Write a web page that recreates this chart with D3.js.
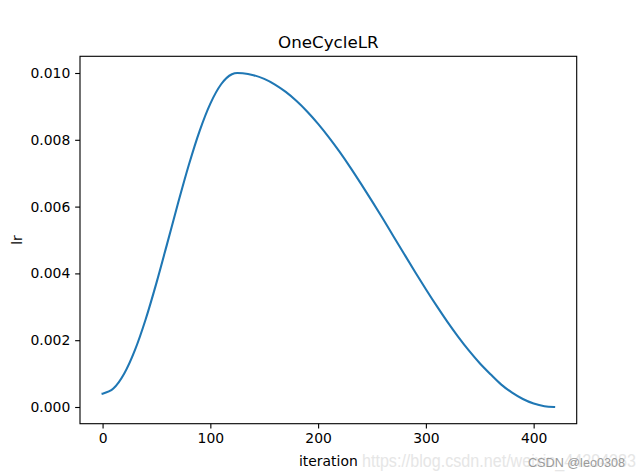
<!DOCTYPE html>
<html><head><meta charset="utf-8">
<script src="https://cdn.jsdelivr.net/npm/d3@7"></script>
<style>body{margin:0;background:#fff}svg{display:block}text{font-family:"DejaVu Sans",sans-serif}</style>
</head><body>
<svg id="c" width="640" height="476"></svg>
<script>
const iterations = [0,10,20,30,40,50,60,70,80,90,100,110,120,125,130,140,150,160,170,180,190,200,210,220,230,240,250,260,270,280,290,300,310,320,330,340,350,360,370,380,390,400,410,419];
const lrValues = [0.000400,0.000551,0.000994,0.001701,0.002628,0.003717,0.004899,0.006099,0.007244,0.008260,0.009083,0.009663,0.009962,0.010000,0.009993,0.009936,0.009823,0.009654,0.009433,0.009161,0.008842,0.008479,0.008076,0.007639,0.007169,0.006674,0.006165,0.005642,0.005107,0.004573,0.004044,0.003526,0.003026,0.002548,0.002100,0.001686,0.001311,0.000980,0.000670,0.000429,0.000239,0.000103,0.000023,0.000000];
const xTicks = [0,100,200,300,400];
const yTicks = [0.000,0.002,0.004,0.006,0.008,0.010];
const title = "OneCycleLR", xLabel = "iteration", yLabel = "lr";

const svg = d3.select("#c");
const L=80, R=576.7, T=56.3, B=423.7;
const x = d3.scaleLinear().domain([-20.95, 439.95]).range([L, R]);
const y = d3.scaleLinear().domain([-0.0005, 0.0105]).range([B, T]);

const line = d3.line().x((d,i)=>x(iterations[i])).y(d=>y(d)).curve(d3.curveMonotoneX);
svg.append("path").datum(lrValues).attr("d", line).attr("fill","none")
  .attr("stroke","#1f77b4").attr("stroke-width",2.08).attr("stroke-linecap","square");

const xa = svg.append("g").attr("transform",`translate(0,${B})`)
  .call(d3.axisBottom(x).tickValues(xTicks).tickFormat(d3.format("d")).tickSizeOuter(0).tickSizeInner(4.86).tickPadding(4.86));
const ya = svg.append("g").attr("transform",`translate(${L},0)`)
  .call(d3.axisLeft(y).tickValues(yTicks).tickFormat(d3.format(".3f")).tickSizeOuter(0).tickSizeInner(4.86).tickPadding(4.86));
[xa,ya].forEach(g=>{
  g.select(".domain").remove();
  g.selectAll(".tick line").attr("stroke","#000").attr("stroke-width",1.11);
  g.selectAll(".tick text").attr("fill","#000").style("font-size","13.9px").style("font-family","DejaVu Sans");
});
svg.append("rect").attr("x",L).attr("y",T).attr("width",R-L).attr("height",B-T)
  .attr("fill","none").attr("stroke","#000").attr("stroke-width",1.11);

svg.append("text").attr("x",(L+R)/2).attr("y",T-8.3).attr("text-anchor","middle")
  .style("font-size","16.7px").text(title);
svg.append("text").attr("x",(L+R)/2).attr("y",465.5).attr("text-anchor","middle")
  .style("font-size","13.9px").text(xLabel);
svg.append("text").attr("transform",`translate(22,${(T+B)/2}) rotate(-90)`).attr("text-anchor","middle")
  .style("font-size","13.9px").text(yLabel);

svg.append("text").attr("x",362).attr("y",467).style("font-family","Liberation Sans, Arial")
  .style("font-size","18px").attr("fill","#e6e6e6")
  .attr("textLength",274).attr("lengthAdjust","spacingAndGlyphs")
  .text("https://blog.csdn.net/weixin_44294383");
svg.append("text").attr("x",528).attr("y",467).style("font-family","Liberation Sans, Arial")
  .style("font-size","13px").attr("fill","#9a9a9a")
  .attr("textLength",97).attr("lengthAdjust","spacingAndGlyphs")
  .text("CSDN @leo0308");
</script>
</body></html>
